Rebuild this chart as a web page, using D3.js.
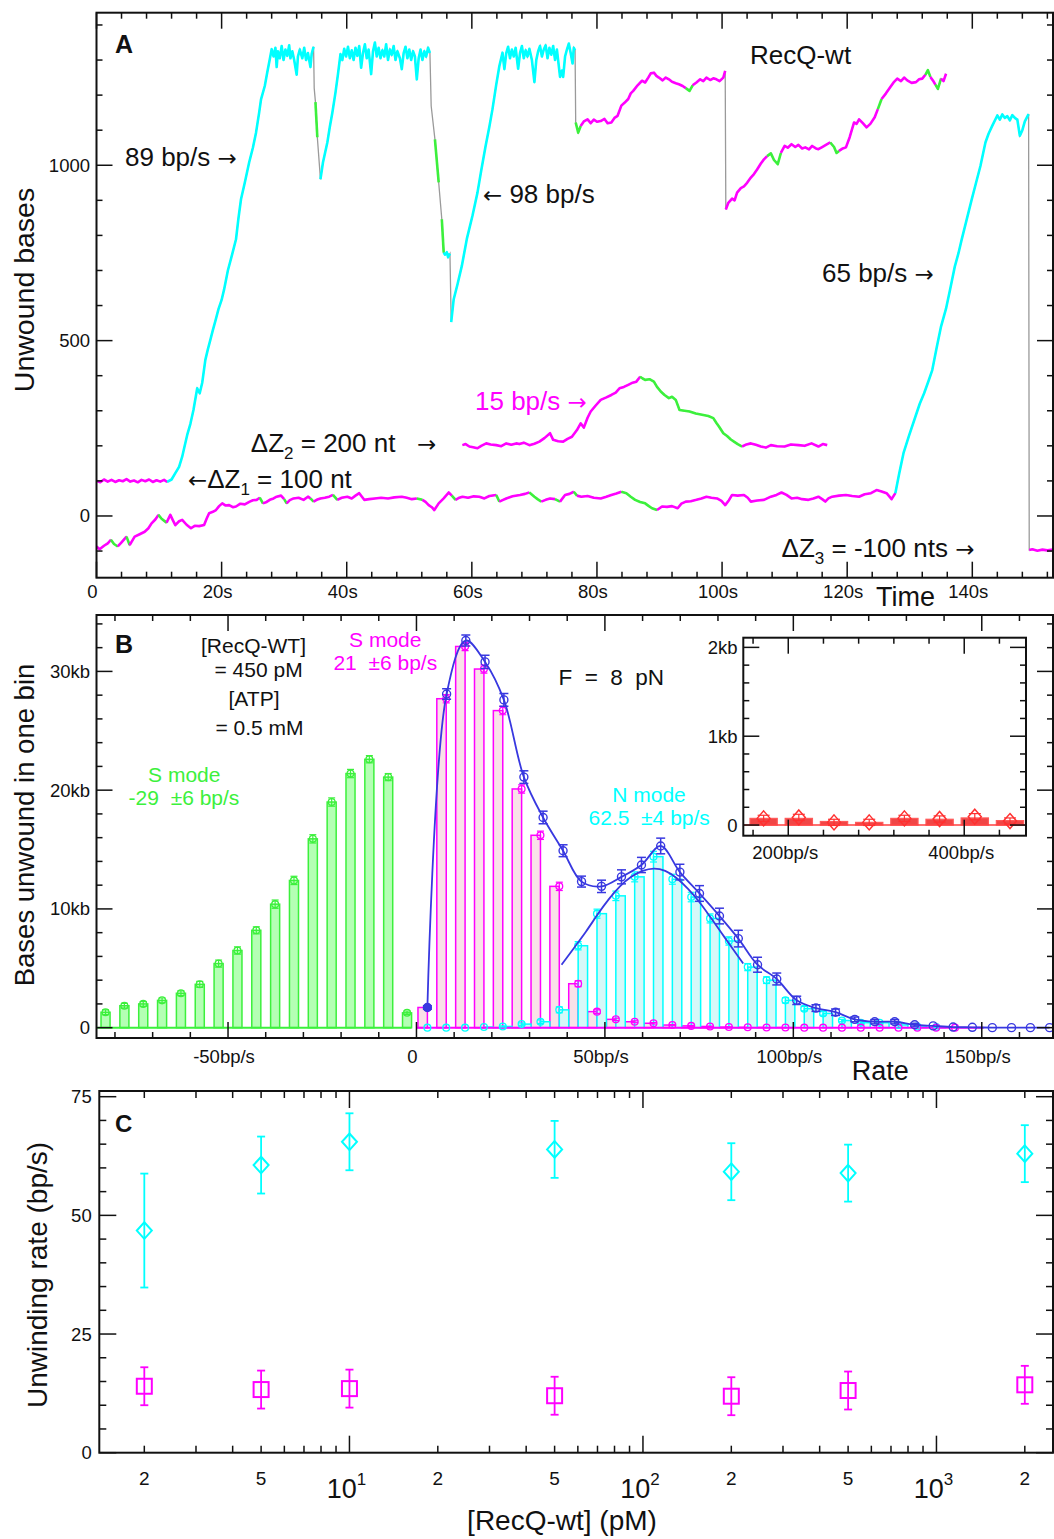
<!DOCTYPE html>
<html><head><meta charset="utf-8">
<script src="https://cdn.jsdelivr.net/npm/d3@7"></script>
<style>
html,body{margin:0;padding:0;background:#fff;}
svg{display:block;font-family:"Liberation Sans",Arial,Helvetica,sans-serif;}
</style></head><body>
<svg id="fig" width="1054" height="1539"></svg>
<script>
// ================= DATA =================
// Panel A: time traces [time (s), unwound bases]
const trace1 = [[0,-87],[0.5,-95],[1.2,-85],[1.8,-78],[2.3,-68],[2.8,-80],[3.4,-87],[4.0,-75],[4.8,-59],[5.3,-83],[6.1,-59],[6.9,-52],[7.7,-45],[8.3,-35],[8.8,-21],[9.4,-10],[9.9,3],[10.4,-8],[11.2,-19],[11.8,3],[12.2,-12],[12.6,-26],[13.2,-15],[13.7,-11],[14.4,-25],[15.1,-35],[15.7,-28],[16.4,-29],[17.2,-26],[17.6,-8],[18.0,8],[18.6,12],[19.1,17],[19.6,28],[20.1,36],[20.6,30],[21.2,31],[21.8,25],[22.3,27],[23.0,35],[23.7,33],[24.5,41],[25.0,45],[25.6,46],[26.1,52],[26.6,36],[27.2,40],[27.7,46],[28.3,50],[28.8,55],[29.5,58],[30.0,48],[30.4,36],[30.9,45],[31.5,50],[32.3,52],[33.1,46],[33.8,55],[34.2,50],[34.7,41],[35.2,46],[35.8,50],[36.5,52],[37.2,55],[37.8,60],[38.5,46],[39.2,52],[40.1,55],[40.8,50],[41.4,58],[42.0,65],[42.8,46],[43.6,48],[44.5,50],[45.5,52],[46.6,50],[47.6,53],[48.8,55],[49.6,52],[50.4,48],[51.2,50],[52.1,46],[52.6,40],[53.1,31],[53.6,25],[54.0,17],[54.7,36],[55.5,50],[56.3,67],[56.8,58],[57.4,46],[58.0,52],[58.5,55],[59.4,52],[60.3,56],[61.2,55],[62.0,50],[62.8,57],[63.9,60],[64.4,41],[65.0,46],[65.5,50],[66.5,56],[67.7,60],[68.5,63],[69.2,67],[70.0,55],[70.5,48],[71.1,41],[71.8,46],[72.5,50],[73.3,48],[74.1,41],[74.9,60],[75.6,63],[76.3,69],[76.8,58],[77.5,55],[78.5,57],[79.5,52],[80.6,50],[81.5,55],[82.3,60],[83.1,64],[83.9,69],[84.7,65],[85.4,55],[86.1,46],[86.9,40],[87.7,36],[88.3,28],[88.8,22],[89.6,17],[90.4,27],[91.2,26],[92.0,28],[92.9,22],[93.5,35],[94.2,41],[95.0,42],[95.9,46],[96.7,50],[97.5,55],[98.3,52],[99.2,50],[99.9,43],[100.5,31],[101.1,45],[101.6,60],[102.5,58],[103.5,60],[104.1,52],[104.6,41],[105.6,44],[106.7,46],[107.8,55],[108.7,60],[109.5,67],[110.3,60],[111.1,50],[112.0,52],[112.8,48],[113.8,46],[114.6,50],[115.4,55],[116.0,48],[116.5,41],[117.0,50],[117.6,55],[118.7,58],[119.8,60],[120.8,57],[121.9,55],[122.8,62],[123.8,65],[124.7,74],[125.5,70],[126.3,65],[127.1,48],[127.7,65],[128.3,120],[129.0,179],[129.9,230],[130.9,283],[131.6,320],[132.3,350],[133.0,385],[133.6,416],[134.3,480],[135.0,540],[135.8,591],[136.5,650],[137.2,711],[137.8,750],[138.3,788],[139.1,845],[139.9,902],[140.6,950],[141.3,998],[142.1,1065],[142.6,1090],[143.2,1113],[144.0,1142],[144.4,1130],[144.8,1145],[145.2,1135],[145.6,1140],[146.0,1128],[146.4,1143],[146.8,1135],[147.2,1130],[147.6,1084],[148.0,1100],[148.4,1125],[149.0,1146],[149.1,-97],[149.6,-95],[150.4,-99],[151.2,-96],[152.0,-98],[152.9,-96]];
const runs1 = [["m",0,2.3],["g",2.3,3.4],["m",3.4,4.8],["g",4.8,5.3],["m",5.3,9.9],["g",9.9,11.2],["m",11.2,26.1],["g",26.1,26.6],["m",26.6,30.0],["g",30.0,30.4],["m",30.4,34.2],["g",34.2,34.7],["m",34.7,37.8],["g",37.8,38.5],["m",38.5,51.2],["g",51.2,52.1],["m",52.1,56.8],["g",56.8,57.4],["m",57.4,63.9],["g",63.9,64.4],["m",64.4,69.2],["g",69.2,71.1],["m",71.1,73.3],["g",73.3,74.1],["m",74.1,76.3],["g",76.3,76.8],["m",76.8,83.9],["g",83.9,89.6],["m",89.6,127.7],["c",127.7,149.0],["m",149.1,152.9]];

const trace2 = [[0,100],[0.6,96],[1.2,104],[1.8,98],[2.4,103],[3.0,97],[3.6,102],[4.2,99],[4.8,105],[5.4,98],[6.0,101],[6.6,96],[7.2,103],[7.8,99],[8.4,104],[9.0,97],[9.6,102],[10.2,98],[10.8,103],[11.3,97],[12.0,104],[12.6,122],[13.2,140],[13.7,169],[14.1,200],[14.5,231],[15.0,262],[15.5,302],[16.1,364],[16.5,350],[16.9,380],[17.4,445],[17.8,475],[18.2,502],[18.6,530],[19.05,559],[19.5,590],[20.0,616],[20.4,646],[21.0,700],[21.6,740],[22.3,789],[22.7,850],[23.1,903],[23.7,950],[24.4,1008],[25.0,1050],[25.5,1093],[26.0,1150],[26.3,1188],[26.9,1226],[27.3,1265],[27.7,1302],[28.0,1331],[28.3,1310],[28.6,1335],[28.8,1280],[29.0,1325],[29.3,1305],[29.6,1340],[29.9,1300],[30.2,1330],[30.5,1312],[30.8,1342],[31.0,1305],[31.3,1325],[31.6,1300],[32.0,1258],[32.2,1310],[32.5,1330],[32.9,1305],[33.2,1335],[33.5,1300],[33.8,1320],[34.2,1280],[34.4,1318],[34.7,1338],[34.8,1220],[35.0,1180],[35.3,1080],[35.8,960],[36.2,1008],[36.9,1065],[37.3,1110],[37.7,1150],[38.2,1207],[38.6,1260],[39.0,1317],[39.3,1300],[39.6,1332],[39.9,1310],[40.2,1338],[40.5,1305],[40.8,1328],[41.1,1300],[41.4,1335],[41.7,1312],[42.0,1340],[42.3,1278],[42.6,1320],[42.9,1345],[43.2,1305],[43.5,1330],[43.9,1260],[44.2,1325],[44.5,1350],[44.8,1310],[45.1,1335],[45.4,1305],[45.7,1328],[46.0,1310],[46.3,1345],[46.6,1300],[46.9,1330],[47.2,1315],[47.5,1340],[47.8,1300],[48.1,1325],[48.5,1305],[48.8,1274],[49.1,1320],[49.4,1338],[49.7,1305],[50.0,1330],[50.3,1300],[50.6,1325],[50.9,1310],[51.2,1245],[51.5,1305],[51.8,1330],[52.1,1300],[52.4,1325],[52.7,1310],[53.0,1335],[53.3,1320],[53.5,1169],[54.1,1074],[54.7,951],[55.2,846],[55.5,751],[55.7,745],[56.0,752],[56.2,738],[56.5,748],[56.7,553],[57.1,618],[57.7,660],[58.4,713],[59.2,790],[60.1,856],[60.9,922],[61.5,985],[62.2,1055],[62.8,1110],[63.3,1160],[63.9,1230],[64.4,1283],[64.9,1321],[65.2,1274],[65.5,1320],[65.8,1338],[66.1,1305],[66.4,1330],[66.7,1310],[67.0,1335],[67.4,1275],[67.7,1320],[68.0,1340],[68.3,1305],[68.6,1328],[68.9,1310],[69.2,1332],[69.6,1300],[70.0,1237],[70.3,1300],[70.6,1325],[70.9,1340],[71.2,1310],[71.5,1330],[71.8,1342],[72.1,1305],[72.4,1335],[72.7,1315],[73.0,1340],[73.3,1300],[73.6,1330],[74.1,1252],[74.4,1270],[74.6,1252],[74.9,1310],[75.2,1330],[75.5,1347],[75.8,1320],[76.1,1290],[76.3,1335],[76.5,1328],[76.55,1230],[76.6,1122],[77.0,1093],[77.4,1112],[77.9,1125],[78.5,1131],[79.0,1120],[79.5,1130],[80.0,1124],[80.6,1126],[81.2,1132],[81.7,1120],[82.3,1122],[82.8,1135],[83.3,1141],[83.9,1170],[84.4,1178],[85.0,1189],[85.4,1205],[85.8,1212],[86.5,1228],[87.2,1241],[87.7,1236],[88.2,1250],[88.6,1262],[89.1,1264],[89.5,1255],[89.9,1250],[90.5,1242],[91.0,1250],[91.5,1245],[92.0,1238],[92.6,1234],[93.1,1231],[93.7,1226],[94.2,1220],[94.8,1212],[95.3,1228],[95.9,1236],[96.5,1245],[97.0,1240],[97.5,1250],[98.1,1243],[98.6,1248],[99.1,1245],[99.6,1240],[100.2,1250],[100.5,1269],[100.6,874],[101.0,893],[101.6,905],[102.0,900],[102.4,922],[103.0,935],[103.5,940],[104.0,950],[104.6,965],[105.1,975],[105.6,988],[106.2,1005],[106.7,1017],[107.2,1026],[107.8,1034],[108.3,1015],[108.9,1003],[109.4,1035],[110.0,1055],[110.5,1050],[111.1,1060],[111.7,1052],[112.2,1058],[112.8,1048],[113.3,1051],[113.9,1045],[114.4,1055],[115.0,1048],[115.4,1046],[116.0,1052],[116.6,1058],[117.3,1065],[117.9,1052],[118.3,1035],[118.7,1041],[119.3,1048],[119.8,1051],[120.4,1080],[121.1,1122],[121.5,1118],[121.9,1131],[122.5,1120],[123.1,1108],[123.7,1118],[124.4,1137],[124.9,1160],[125.5,1189],[126.2,1205],[126.9,1223],[127.5,1238],[128.0,1247],[128.6,1240],[129.1,1250],[129.6,1242],[130.3,1235],[131.0,1237],[131.5,1245],[132.0,1247],[132.5,1258],[132.9,1271],[133.3,1252],[133.7,1242],[134.1,1230],[134.5,1218],[135.0,1247],[135.4,1240],[135.8,1261]];
const runs2 = [["m",0,11.3],["c",11.3,34.7],["g",35.0,35.3],["c",35.8,53.3],["g",54.1,54.7],["g",55.2,55.5],["c",55.5,56.5],["c",56.7,76.5],["g",76.6,77.4],["m",77.4,94.2],["g",94.2,95.3],["m",95.3,100.5],["m",100.6,107.2],["g",107.2,109.4],["m",109.4,117.3],["g",117.3,118.7],["m",118.7,124.9],["g",124.9,125.5],["m",125.5,132.5],["g",132.5,133.3],["m",133.3,134.1],["g",134.1,135.0],["m",135.0,135.8]];

const trace3 = [[58.5,202],[59.0,205],[59.6,198],[60.2,196],[60.9,193],[61.5,200],[62.3,207],[63.0,204],[63.9,202],[64.7,199],[65.5,207],[66.3,203],[67.1,207],[67.6,205],[68.3,209],[69.2,202],[70.0,206],[70.8,212],[71.6,222],[72.5,236],[73.0,217],[73.8,213],[74.6,212],[75.3,220],[76.0,226],[76.8,245],[77.4,264],[77.9,252],[78.5,280],[79.0,298],[79.8,315],[80.6,331],[81.5,338],[82.3,345],[83.0,352],[83.6,364],[84.3,368],[85.0,374],[85.7,380],[86.3,383],[86.9,397],[87.3,392],[87.7,388],[88.4,390],[89.1,383],[89.6,368],[90.2,355],[90.8,345],[91.5,336],[92.0,340],[92.6,331],[93.2,302],[94.0,300],[94.8,298],[95.8,292],[97.0,288],[97.8,285],[98.6,279],[99.1,265],[99.5,255],[100.2,236],[100.8,228],[101.4,218],[101.9,212],[102.5,205],[103.2,198],[103.9,204],[104.6,207],[105.4,203],[106.2,198],[107.0,195],[107.8,202],[108.8,199],[110.0,198],[111.0,204],[112.2,202],[113.2,200],[114.3,207],[115.4,198],[116.1,205],[116.8,202]];
const runs3 = [["m",58.5,86.9],["g",86.9,103.2],["m",103.2,116.8]];

const timeTicks = [0,20,40,60,80,100,120,140];
const timeLabels = ["0","20s","40s","60s","80s","100s","120s","140s"];
const basesTicks = [0,500,1000];
const basesLabels = ["0","500","1000"];

// Panel B: histograms (kb per bin)
const greenX = [-82.5,-77.5,-72.5,-67.5,-62.5,-57.5,-52.5,-47.5,-42.5,-37.5,-32.5,-27.5,-22.5,-17.5,-12.5,-7.5,-2.5];
const greenY = [1.3,1.85,2.0,2.3,2.9,3.65,5.4,6.5,8.2,10.4,12.4,15.9,19.0,21.4,22.6,21.1,1.25];
const greenErr = [0.2,0.2,0.2,0.2,0.2,0.25,0.3,0.3,0.3,0.35,0.35,0.35,0.35,0.35,0.3,0.3,0.15];
const binX = [2.9,7.9,12.9,17.9,22.9,27.9,32.9,37.9,42.9,47.9,52.9,57.9,62.9,67.9,72.9,77.9,82.9,87.9,92.9,97.9,102.9,107.9,112.9,117.9,122.9,127.9,132.9,137.9,142.9];
const magentaY = [1.7,27.7,32.1,30.2,26.7,20.1,16.2,11.9,3.7,1.35,0.7,0.5,0.37,0.22,0.15,0.1,0.05,0.03,0.02,0.01,0,0,0,0,0,0,0,0,0];
const magentaErr = [0.15,0.35,0.35,0.35,0.35,0.35,0.35,0.35,0.25,0.15,0.1,0.08,0.06,0.05,0.04,0.03,0.02,0,0,0,0,0,0,0,0,0,0,0,0];
const cyanY = [0,0,0,0.05,0.1,0.3,0.5,1.5,6.9,9.6,11.1,12.7,14.4,12.5,11.0,9.2,7.3,5.1,4.0,2.3,1.6,1.2,0.6,0.42,0.42,0.23,0.1,0.05];
const cyanErr = [0,0,0,0,0.05,0.1,0.15,0.25,0.35,0.38,0.4,0.42,0.45,0.42,0.4,0.38,0.35,0.3,0.28,0.22,0.18,0.15,0.1,0.08,0.08,0.05,0.04,0.03];
const blueX = [2.9,8.0,13.1,18.2,23.2,28.5,33.6,38.9,43.8,49.1,54.4,59.7,64.8,69.9,75.1,80.4,85.4,90.5,95.6,100.9,106.0,111.2,116.3,121.6,126.9,132.2,137.1,142.4,147.5,152.8,157.9,162.9,168.0];
const blueY = [1.7,28.1,32.6,30.8,27.6,21.1,17.7,14.9,12.3,11.9,12.7,13.7,15.3,13.1,11.3,9.4,7.5,5.3,4.1,2.3,1.65,1.3,0.7,0.5,0.5,0.25,0.15,0.05,0.03,0,0,0,0];
const blueErr = [0.15,0.45,0.47,0.56,0.53,0.53,0.53,0.5,0.46,0.52,0.59,0.64,0.66,0.66,0.66,0.66,0.7,0.63,0.5,0.35,0.28,0.27,0.2,0.18,0.18,0.12,0.1,0.06,0.05,0,0,0,0];
const fitX = [38.5,42,45,48,51,54,57,60,63,66,69,72,75,78,81,84,86.7];
const fitY = [5.3,6.8,8.1,9.5,10.8,11.9,12.7,13.2,13.4,13.2,12.6,11.7,10.6,9.3,7.95,6.6,5.4];
const rateTicks = [-50,0,50,100,150];
const rateLabels = ["-50bp/s","0","50bp/s","100bp/s","150bp/s"];
const kbTicks = [0,10,20,30];
const kbLabels = ["0","10kb","20kb","30kb"];
// Inset
const insetX = [172,212,252,292,332,372,412,452];
const insetBarY = [0.075,0.075,0.04,0.03,0.075,0.065,0.08,0.05];
const insetPtY = [0.075,0.086,0.03,0.03,0.075,0.068,0.094,0.045];
const insetXTicks = [200,400];
const insetXLabels = ["200bp/s","400bp/s"];
const insetYTicks = [0,1,2];
const insetYLabels = ["0","1kb","2kb"];

// Panel C
const conc = [2,5,10,50,200,500,2000];
const nMode = [46.8,60.6,65.5,63.9,59.2,58.9,63.0];
const nErr = [12,6,6,6,6,6,6];
const sMode = [14.0,13.3,13.5,12.0,11.9,13.1,14.3];
const sErr = [4,4,4,4,4,4,4];
const rateCTicks = [0,25,50,75];

// ================= DRAWING =================
const MAG="#ff00ff", CYA="#00ffff", GRN="#3cf03c", BLU="#3838e0", INK="#111";
const ARROWFONT="'DejaVu Sans', sans-serif";
const colorOf = {m:MAG, c:CYA, g:GRN};
const svg = d3.select("#fig");
const defs = svg.append("defs");

function txt(g,x,y,s,o={}){
  const t=g.append("text").attr("x",x).attr("y",y).text(s)
    .attr("font-size",o.size||18.5).attr("fill",o.fill||INK)
    .attr("text-anchor",o.anchor||"start");
  if(o.bold) t.attr("font-weight","bold");
  if(o.pre) t.style("white-space","pre");
  return t;
}
// rich text: parts = [[string, kind]] kind: "n" normal, "a" arrow, "s" subscript
function rich(g,x,y,parts,o={}){
  const t=g.append("text").attr("x",x).attr("y",y).attr("font-size",o.size||26).attr("fill",o.fill||INK).style("white-space","pre");
  let shifted=false;
  parts.forEach(([s,k])=>{
    const sp=t.append("tspan").text(s);
    if(k==="a"){sp.attr("font-family",ARROWFONT).attr("font-size",(o.size||26)*0.88);}
    if(k==="s"){sp.attr("font-size",17).attr("dy",7);shifted=true;}
    else if(shifted){sp.attr("dy",-7);shifted=false;}
  });
  return t;
}
function frame(g,b){
  g.append("rect").attr("x",b.x0).attr("y",b.y0).attr("width",b.x1-b.x0).attr("height",b.y1-b.y0)
   .attr("fill","none").attr("stroke",INK).attr("stroke-width",2);
}
function ticksH(g,sc,vals,len,yb,yt){
  vals.forEach(v=>{const x=sc(v);
    g.append("line").attr("x1",x).attr("x2",x).attr("y1",yb).attr("y2",yb-len).attr("stroke",INK).attr("stroke-width",1.5);
    g.append("line").attr("x1",x).attr("x2",x).attr("y1",yt).attr("y2",yt+len).attr("stroke",INK).attr("stroke-width",1.5);});
}
function ticksV(g,sc,vals,len,xl,xr){
  vals.forEach(v=>{const y=sc(v);
    g.append("line").attr("x1",xl).attr("x2",xl+len).attr("y1",y).attr("y2",y).attr("stroke",INK).attr("stroke-width",1.5);
    g.append("line").attr("x1",xr).attr("x2",xr-len).attr("y1",y).attr("y2",y).attr("stroke",INK).attr("stroke-width",1.5);});
}
function errBar(g,x,y1,y2,color,cap,w){
  g.append("line").attr("x1",x).attr("x2",x).attr("y1",y1).attr("y2",y2).attr("stroke",color).attr("stroke-width",w||1.3);
  [y1,y2].forEach(y=>g.append("line").attr("x1",x-cap/2).attr("x2",x+cap/2).attr("y1",y).attr("y2",y).attr("stroke",color).attr("stroke-width",w||1.3));
}
function range(a,b,s){const r=[];for(let v=a;v<=b+1e-9;v+=s)r.push(+v.toFixed(6));return r;}

// ---------- Panel A ----------
const A={x0:96.5,x1:1053,y0:12.7,y1:577.7};
const xA=d3.scaleLinear().domain([0,152.9]).range([A.x0,A.x1]);
const yA=d3.scaleLinear().domain([-176,1435]).range([A.y1,A.y0]);
const gA=svg.append("g");
defs.append("clipPath").attr("id","clipA").append("rect").attr("x",A.x0).attr("y",A.y0).attr("width",A.x1-A.x0).attr("height",A.y1-A.y0);
const gT=gA.append("g").attr("clip-path","url(#clipA)");
const lineA=d3.line().x(d=>xA(d[0])).y(d=>yA(d[1]));
[[trace1,runs1],[trace2,runs2],[trace3,runs3]].forEach(([pts,runs])=>{
  gT.append("path").attr("d",lineA(pts)).attr("fill","none").attr("stroke","#9a9a9a").attr("stroke-width",1.3);
  runs.forEach(r=>{
    const seg=pts.filter(p=>p[0]>=r[1]-1e-9&&p[0]<=r[2]+1e-9);
    if(seg.length>1) gT.append("path").attr("d",lineA(seg)).attr("fill","none")
      .attr("stroke",colorOf[r[0]]).attr("stroke-width",2.6).attr("stroke-linejoin","round");
  });
});
frame(gA,A);
ticksH(gA,xA,timeTicks,16,A.y1,A.y0);
ticksH(gA,xA,range(4,152,4).filter(v=>v%20!==0),6,A.y1,A.y0);
ticksV(gA,yA,basesTicks,16,A.x0,A.x1);
ticksV(gA,yA,range(-100,1400,100).filter(v=>v%500!==0),6,A.x0,A.x1);
timeTicks.forEach((v,i)=>txt(gA,xA(v)-4,597.5,timeLabels[i],{anchor:"middle"}));
basesTicks.forEach((v,i)=>txt(gA,90,yA(v)+6.5,basesLabels[i],{anchor:"end"}));
txt(gA,115,52.7,"A",{size:25,bold:true});
txt(gA,750,64,"RecQ-wt",{size:26});
rich(gA,125,166,[["89 bp/s ","n"],["\u2192","a"]]);
rich(gA,483,203,[["\u2190","a"],[" 98 bp/s","n"]]);
rich(gA,822,281.5,[["65 bp/s ","n"],["\u2192","a"]]);
rich(gA,475,410,[["15 bp/s ","n"],["\u2192","a"]],{fill:MAG});
rich(gA,250.8,451.5,[["\u0394Z","n"],["2","s"],[" = 200 nt   ","n"],["\u2192","a"]]);
rich(gA,188,488,[["\u2190","a"],["\u0394Z","n"],["1","s"],[" = 100 nt","n"]]);
rich(gA,781.6,556.5,[["\u0394Z","n"],["3","s"],[" = -100 nts ","n"],["\u2192","a"]]);
txt(gA,876,606,"Time",{size:27});
txt(gA,0,0,"Unwound bases",{size:28.5,anchor:"middle"}).attr("transform","translate(34,290) rotate(-90)");

// ---------- Panel B ----------
const B={x0:96.5,x1:1053,y0:615,y1:1038};
const xB=d3.scaleLinear().domain([-84.9,168.9]).range([B.x0,B.x1]);
const yB=d3.scaleLinear().domain([-0.87,34.75]).range([B.y1,B.y0]);
const gB=svg.append("g");
defs.append("clipPath").attr("id","clipB").append("rect").attr("x",B.x0).attr("y",B.y0).attr("width",B.x1-B.x0).attr("height",B.y1-B.y0);
const gP=gB.append("g").attr("clip-path","url(#clipB)");
greenX.forEach((c,i)=>{
  gP.append("rect").attr("x",xB(c-1.2)).attr("width",xB(c+1.2)-xB(c-1.2))
   .attr("y",yB(greenY[i])).attr("height",yB(0)-yB(greenY[i]))
   .attr("fill","#b4ffb4").attr("stroke",GRN).attr("stroke-width",1.5);
});
binX.forEach((c,i)=>{
  const v=magentaY[i];
  if(v>0) gP.append("rect").attr("x",xB(c-2.5)).attr("width",xB(c)-xB(c-2.5))
    .attr("y",yB(v)).attr("height",yB(0)-yB(v)).attr("fill","#f9e1e8").attr("stroke",MAG).attr("stroke-width",1.5);
});
binX.forEach((c,i)=>{
  const v=cyanY[i];
  if(v!==undefined&&v>0) gP.append("rect").attr("x",xB(c)).attr("width",xB(c+2.5)-xB(c))
    .attr("y",yB(v)).attr("height",yB(0)-yB(v)).attr("fill","#d6f8f8").attr("stroke",CYA).attr("stroke-width",1.5);
});
gP.append("line").attr("x1",xB(-84.9)).attr("x2",xB(-1.3)).attr("y1",yB(0)).attr("y2",yB(0)).attr("stroke",GRN).attr("stroke-width",2);
gP.append("line").attr("x1",xB(0)).attr("x2",xB(150.5)).attr("y1",yB(0)).attr("y2",yB(0)).attr("stroke",MAG).attr("stroke-width",2);
function ptSeries(xs,ys,es,color){
  xs.forEach((x,i)=>{
    if(ys[i]===undefined) return;
    const px=xB(x),py=yB(ys[i]);
    if(es[i]>0) errBar(gP,px,yB(ys[i]+es[i]),yB(ys[i]-es[i]),color,7,1.2);
    gP.append("circle").attr("cx",px).attr("cy",py).attr("r",3.4).attr("fill","none").attr("stroke",color).attr("stroke-width",1.3);
  });
}
ptSeries(greenX,greenY,greenErr,GRN);
ptSeries(binX,cyanY,cyanErr,CYA);
ptSeries(binX,magentaY,magentaErr,MAG);
const blueLine=d3.line().x(d=>xB(d[0])).y(d=>yB(d[1])).curve(d3.curveCatmullRom.alpha(0.5));
gP.append("path").attr("d",blueLine(blueX.map((x,i)=>[x,blueY[i]]))).attr("fill","none").attr("stroke",BLU).attr("stroke-width",1.8);
const fitLine=d3.line().x(d=>xB(d[0])).y(d=>yB(d[1])).curve(d3.curveNatural);
gP.append("path").attr("d",fitLine(fitX.map((x,i)=>[x,fitY[i]]))).attr("fill","none").attr("stroke",BLU).attr("stroke-width",1.8);
blueX.forEach((x,i)=>{
  const px=xB(x),py=yB(blueY[i]);
  if(blueErr[i]>0.1) errBar(gP,px,yB(blueY[i]+blueErr[i]),yB(blueY[i]-blueErr[i]),BLU,9,1.5);
  gP.append("circle").attr("cx",px).attr("cy",py).attr("r",4).attr("fill",i===0?BLU:"none").attr("stroke",BLU).attr("stroke-width",1.4);
});
frame(gB,B);
ticksH(gB,xB,rateTicks,16,B.y1,B.y0);
ticksH(gB,xB,range(-80,160,10).filter(v=>v%50!==0),6,B.y1,B.y0);
ticksV(gB,yB,kbTicks,16,B.x0,B.x1);
ticksV(gB,yB,range(2,34,2).filter(v=>v%10!==0),6,B.x0,B.x1);
rateTicks.forEach((v,i)=>txt(gB,xB(v)-4,1063,rateLabels[i],{anchor:"middle"}));
kbTicks.forEach((v,i)=>txt(gB,90,yB(v)+6.5,kbLabels[i],{anchor:"end"}));
txt(gB,115,653,"B",{size:25,bold:true});
txt(gB,253.5,653,"[RecQ-WT]",{size:21,anchor:"middle"});
txt(gB,258.6,677,"= 450 pM",{size:21,anchor:"middle"});
txt(gB,254,706,"[ATP]",{size:21,anchor:"middle"});
txt(gB,259.5,735,"= 0.5 mM",{size:21,anchor:"middle"});
txt(gB,385.3,646.5,"S mode",{size:21,anchor:"middle",fill:MAG});
txt(gB,385.3,669.5,"21  \u00b16 bp/s",{size:21,anchor:"middle",fill:MAG,pre:true});
txt(gB,184.3,781.5,"S mode",{size:21,anchor:"middle",fill:GRN});
txt(gB,184,805,"-29  \u00b16 bp/s",{size:21,anchor:"middle",fill:GRN,pre:true});
txt(gB,611.3,685,"F  =  8  pN",{size:22.5,anchor:"middle",pre:true});
txt(gB,649,801.5,"N mode",{size:21,anchor:"middle",fill:CYA});
txt(gB,649.2,825,"62.5  \u00b14 bp/s",{size:21,anchor:"middle",fill:CYA,pre:true});
txt(gB,851.7,1080,"Rate",{size:27});
txt(gB,0,0,"Bases unwound in one bin",{size:27.5,anchor:"middle"}).attr("transform","translate(34,825) rotate(-90)");

// Inset
const I={x0:743.3,x1:1026,y0:637.7,y1:835.7};
const xI=d3.scaleLinear().domain([148.9,470.2]).range([I.x0,I.x1]);
const yI=d3.scaleLinear().domain([-0.12,2.109]).range([I.y1,I.y0]);
const gI=svg.append("g");
gI.append("rect").attr("x",I.x0).attr("y",I.y0).attr("width",I.x1-I.x0).attr("height",I.y1-I.y0).attr("fill","#fff");
insetX.forEach((c,i)=>{
  gI.append("rect").attr("x",xI(c-15.5)).attr("width",xI(c+15.5)-xI(c-15.5))
   .attr("y",yI(insetBarY[i])).attr("height",yI(0)-yI(insetBarY[i]))
   .attr("fill","#f04646").attr("stroke","#ff5a5a").attr("stroke-width",1.2);
});
gI.append("line").attr("x1",I.x0).attr("x2",I.x1).attr("y1",yI(0)).attr("y2",yI(0)).attr("stroke","#ff4040").attr("stroke-width",1.5);
insetX.forEach((c,i)=>{
  const px=xI(c),py=yI(insetPtY[i]);
  errBar(gI,px,yI(insetPtY[i]+0.035),yI(insetPtY[i]-0.035),"#ff3030",12,1.2);
  gI.append("path").attr("d",`M${px},${py-7.5}L${px+6.5},${py}L${px},${py+7.5}L${px-6.5},${py}Z`)
   .attr("fill","none").attr("stroke","#ff3030").attr("stroke-width",1.5);
});
frame(gI,I);
ticksH(gI,xI,insetXTicks,16,I.y1,I.y0);
ticksH(gI,xI,[160,240,280,320,360,440],6,I.y1,I.y0);
ticksV(gI,yI,insetYTicks,16,I.x0,I.x1);
ticksV(gI,yI,range(0.2,2.0,0.2).filter(v=>Math.abs(v-1)>1e-6&&Math.abs(v-2)>1e-6),6,I.x0,I.x1);
insetXTicks.forEach((v,i)=>txt(gI,xI(v)-3,859,insetXLabels[i],{anchor:"middle"}));
insetYTicks.forEach((v,i)=>txt(gI,737.5,yI(v)+6.5,insetYLabels[i],{anchor:"end"}));

// ---------- Panel C ----------
const C={x0:99.3,x1:1053,y0:1091,y1:1452.7};
const xC=d3.scaleLog().domain([1.405,2495]).range([C.x0,C.x1]);
const yC=d3.scaleLinear().domain([0,76.2]).range([C.y1,C.y0]);
const gC=svg.append("g");
frame(gC,C);
ticksH(gC,xC,[10,100,1000],17,C.y1,C.y0);
const minorC=[];[1,10,100,1000].forEach(d=>[2,3,4,5,6,7,8,9].forEach(m=>{const v=m*d;if(v>1.405&&v<2495)minorC.push(v);}));
ticksH(gC,xC,minorC,7,C.y1,C.y0);
ticksV(gC,yC,rateCTicks,17,C.x0,C.x1);
ticksV(gC,yC,range(5,70,5).filter(v=>v%25!==0),7,C.x0,C.x1);
rateCTicks.forEach(v=>txt(gC,91.7,yC(v)+6.5,String(v),{anchor:"end",size:18.5}));
minorC.forEach(v=>{
  const lead=Math.round(v/Math.pow(10,Math.floor(Math.log10(v)+1e-9)));
  if(lead===2||lead===5) txt(gC,xC(v),1485,String(lead),{anchor:"middle",size:19});
});
[[10,"1"],[100,"2"],[1000,"3"]].forEach(([v,e])=>{
  const t=txt(gC,xC(v)-3,1498,"10",{anchor:"middle",size:27});
  t.append("tspan").attr("font-size",17).attr("dy",-13).text(e);
});
conc.forEach((c,i)=>{
  const px=xC(c);
  errBar(gC,px,yC(nMode[i]+nErr[i]),yC(nMode[i]-nErr[i]),CYA,8,1.8);
  const py=yC(nMode[i]);
  gC.append("path").attr("d",`M${px},${py-8.3}L${px+7.5},${py}L${px},${py+8.3}L${px-7.5},${py}Z`)
    .attr("fill","none").attr("stroke",CYA).attr("stroke-width",2);
  errBar(gC,px,yC(sMode[i]+sErr[i]),yC(sMode[i]-sErr[i]),MAG,8,1.8);
  const qy=yC(sMode[i]);
  gC.append("rect").attr("x",px-7.5).attr("y",qy-7.5).attr("width",15).attr("height",15)
    .attr("fill","none").attr("stroke",MAG).attr("stroke-width",2);
});
txt(gC,115,1131.5,"C",{size:24,bold:true});
txt(gC,562,1530,"[RecQ-wt] (pM)",{size:28,anchor:"middle"});
txt(gC,0,0,"Unwinding rate (bp/s)",{size:28,anchor:"middle"}).attr("transform","translate(47,1275) rotate(-90)");
</script></body></html>
